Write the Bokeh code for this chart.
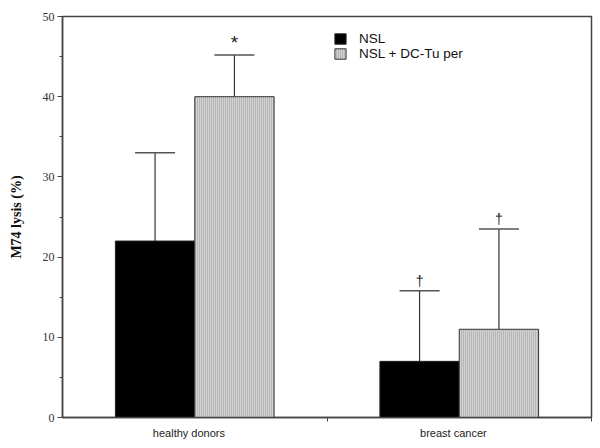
from bokeh.plotting import figure
from bokeh.models import (ColumnDataSource, Range1d, FixedTicker, Whisker, TeeHead,
                          Legend, LegendItem)
from bokeh.core.properties import value
from bokeh.embed import file_html
from bokeh.resources import INLINE

categories = ["healthy donors", "breast cancer"]
nsl = [22, 7]
nsl_err = [11, 8.8]
dc = [40, 11]
dc_err = [5.2, 12.5]
nsl_marks = ["", "\u2020"]
dc_marks = ["*", "\u2020"]
y_ticks = [0, 10, 20, 30, 40, 50]

idx = list(range(len(categories)))
bw = 0.3
label_shift = 0.022  # category labels sit slightly left of the group centre


def msize(marks):
    return ["19px" if m == "*" else "14px" for m in marks]


src_n = ColumnDataSource(dict(x=[i + 0.5 - bw / 2 for i in idx], top=nsl,
                              upper=[a + b for a, b in zip(nsl, nsl_err)], mark=nsl_marks,
                              fs=msize(nsl_marks)))
src_d = ColumnDataSource(dict(x=[i + 0.5 + bw / 2 for i in idx], top=dc,
                              upper=[a + b for a, b in zip(dc, dc_err)], mark=dc_marks,
                              fs=msize(dc_marks)))

p = figure(width=600, height=448, output_backend="svg", toolbar_location=None,
           x_range=Range1d(0, len(categories)), y_range=Range1d(0, 50),
           min_border_left=62, min_border_right=9, min_border_top=16, min_border_bottom=31)
p.xgrid.visible = False
p.ygrid.visible = False
p.outline_line_color = "#444444"
p.outline_line_width = 1.5
p.background_fill_color = "white"
p.border_fill_color = "white"

r1 = p.vbar(x="x", top="top", width=bw, source=src_n, fill_color="black",
            line_color="#222222", line_width=1)
r2 = p.vbar(x="x", top="top", width=bw, source=src_d, fill_color="#d2d2d2",
            hatch_pattern="vertical_line", hatch_color="#9a9a9a", hatch_scale=2,
            hatch_weight=1, line_color="#333333", line_width=1)

for src in (src_n, src_d):
    w = Whisker(base="x", lower="top", upper="upper", source=src,
                lower_head=None,
                upper_head=TeeHead(size=40, line_color="#555555", line_width=1.5),
                line_color="#333333", line_width=1.2)
    p.add_layout(w)
    p.text(x="x", y="upper", text="mark", source=src, text_align="center",
           text_baseline="bottom", y_offset=-2, text_font=value("Liberation Sans"),
           text_font_size="fs", text_color="#222222")

legend = Legend(items=[LegendItem(label="NSL", renderers=[r1]),
                       LegendItem(label="NSL + DC-Tu per", renderers=[r2])],
                location=(271, 356), padding=0, margin=0, spacing=0,
                glyph_width=14, glyph_height=13, label_height=13, label_standoff=12,
                label_text_font="Liberation Sans", label_text_font_size="13.5px",
                label_text_color="#111111", border_line_color=None,
                background_fill_alpha=0)
p.add_layout(legend)

# x axis
lab_pos = [i + 0.5 - label_shift for i in idx]
p.xaxis.ticker = FixedTicker(ticks=lab_pos, minor_ticks=[i + 1 for i in idx])
p.xaxis.major_label_overrides = {x: c for x, c in zip(lab_pos, categories)}
p.xaxis.major_tick_out = 0
p.xaxis.major_tick_in = 0
p.xaxis.minor_tick_out = 4
p.xaxis.minor_tick_in = 0
p.xaxis.axis_line_color = "#444444"
p.xaxis.axis_line_width = 1.5
p.xaxis.minor_tick_line_color = "#444444"
p.xaxis.major_label_text_font = "Liberation Sans"
p.xaxis.major_label_text_font_size = "11px"
p.xaxis.major_label_text_color = "#222222"
p.xaxis.major_label_standoff = 5

# y axis
p.yaxis.ticker = FixedTicker(ticks=y_ticks, minor_ticks=[t + 5 for t in y_ticks[:-1]])
p.yaxis.axis_label = "M74 lysis (%)"
p.yaxis.axis_label_text_font = "Liberation Serif"
p.yaxis.axis_label_text_font_style = "bold"
p.yaxis.axis_label_text_font_size = "14px"
p.yaxis.axis_label_text_color = "#111111"
p.yaxis.axis_label_standoff = 16
p.yaxis.major_label_text_font = "Liberation Serif"
p.yaxis.major_label_text_font_size = "12px"
p.yaxis.major_label_text_color = "#333333"
p.yaxis.major_tick_out = 5
p.yaxis.major_tick_in = 0
p.yaxis.minor_tick_out = 3
p.yaxis.minor_tick_in = 0
p.yaxis.axis_line_color = "#444444"
p.yaxis.axis_line_width = 1.5
p.yaxis.major_tick_line_color = "#444444"
p.yaxis.minor_tick_line_color = "#444444"
p.yaxis.major_label_standoff = 3

open("out.html", "w").write(file_html(p, INLINE))
